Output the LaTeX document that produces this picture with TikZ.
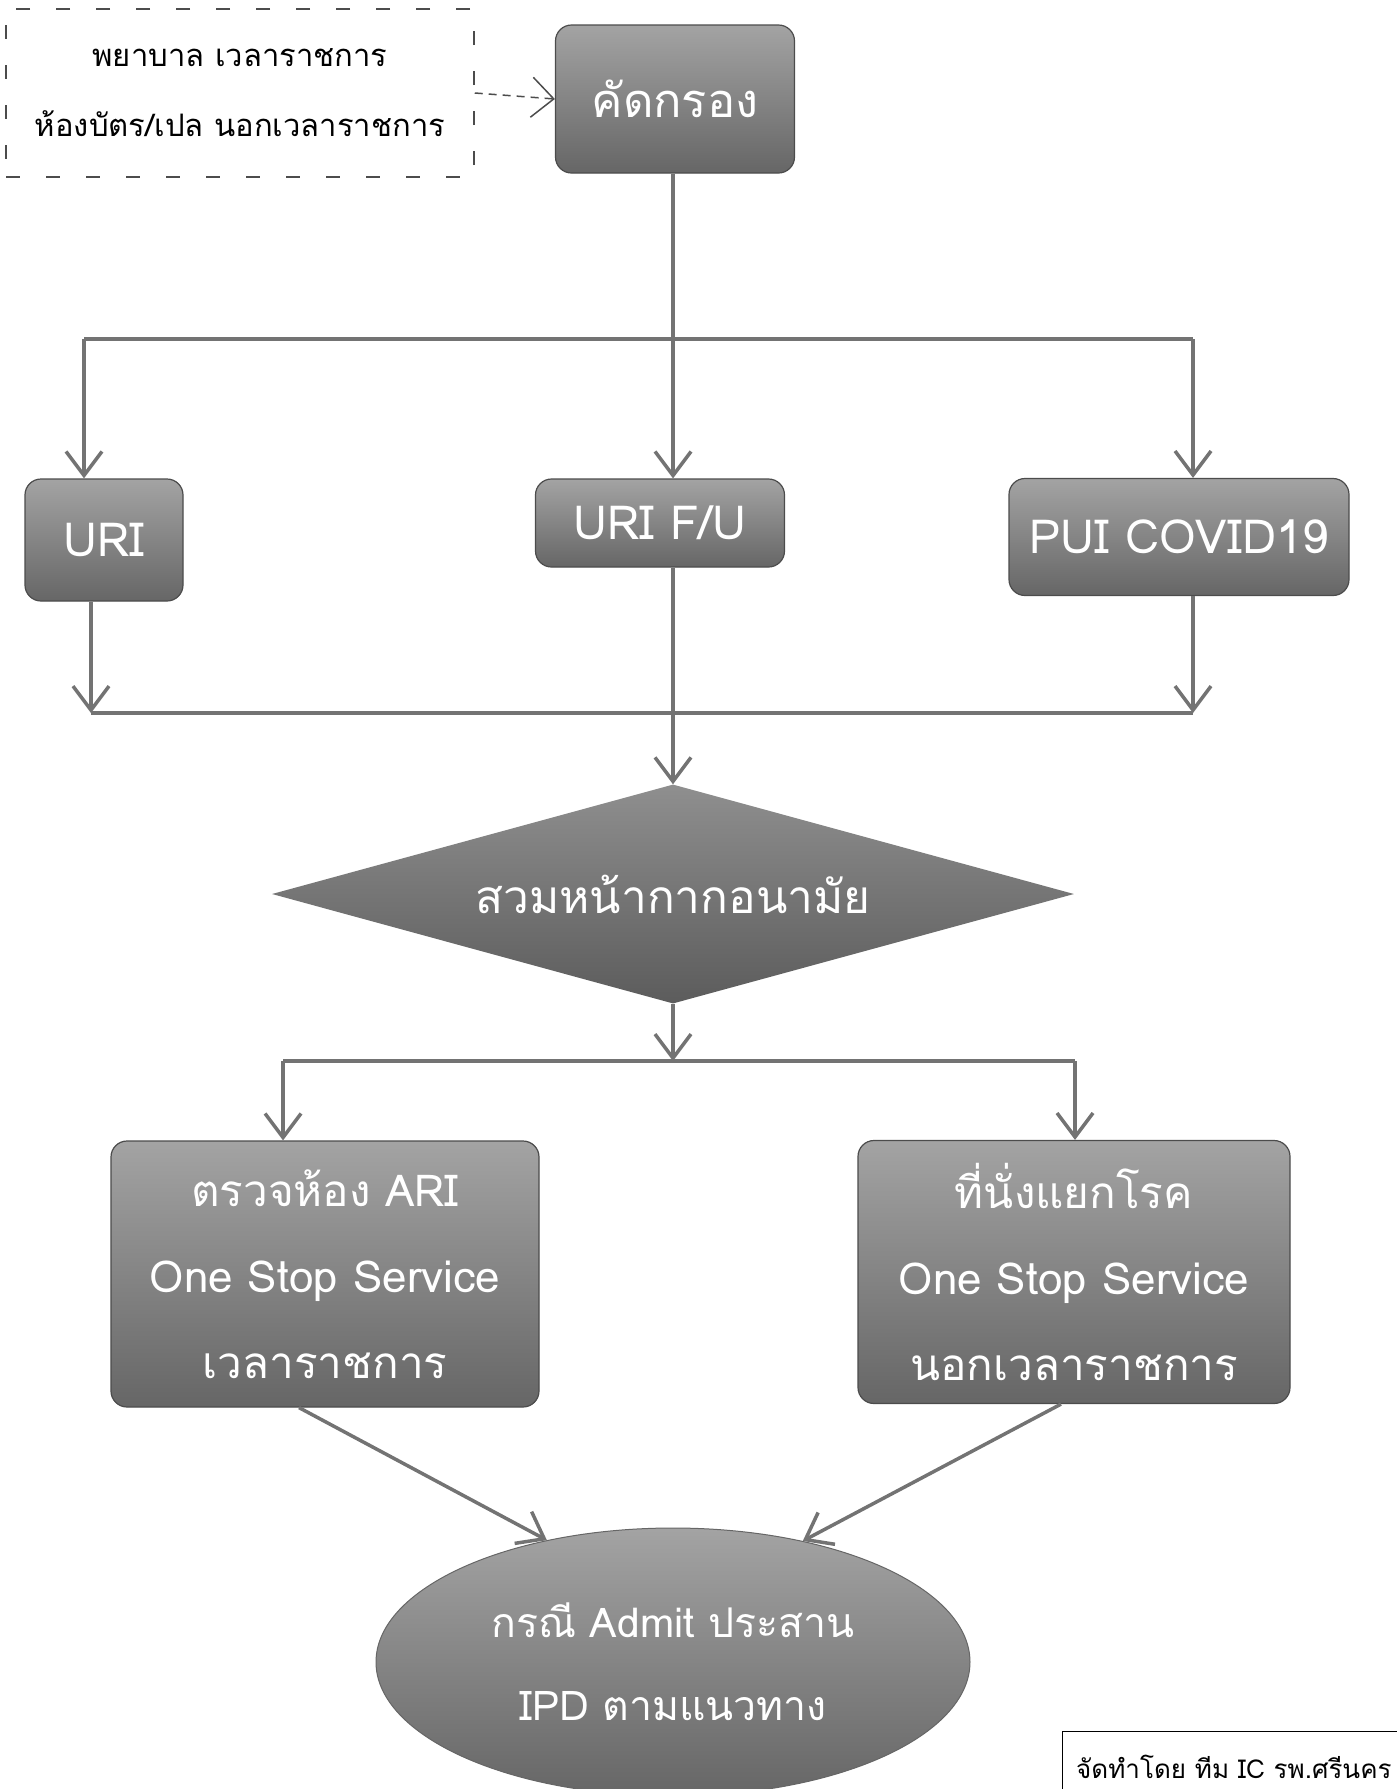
\documentclass[tikz,border=0pt]{standalone}
\usepackage{fontspec}
\usetikzlibrary{shapes.geometric,arrows.meta,calc}
\newfontfamily\thai[Script=Thai]{Loma}
\definecolor{boxtop}{gray}{0.64}
\definecolor{boxbot}{gray}{0.40}
\definecolor{dmtop}{gray}{0.56}
\definecolor{dmbot}{gray}{0.36}
\definecolor{linegray}{gray}{0.45}
\tikzset{
  procbox/.style={draw=black!70, line width=1.2pt, rounded corners=16pt, top color=boxtop, bottom color=boxbot,
    text=white, inner sep=0pt, align=center, font=\thai\fontsize{47}{54}\selectfont},
  decis/.style={diamond, draw=none, top color=dmtop, bottom color=dmbot, inner sep=0pt},
  decistext/.style={text=white, inner sep=0pt, font=\thai\fontsize{46}{52}\selectfont},
  endell/.style={ellipse, draw=black!60, line width=1pt, top color=boxtop, bottom color=boxbot, text=white,
    inner sep=0pt, align=center, font=\thai\fontsize{41}{83}\selectfont},
  flow/.style={draw=linegray, line width=4.5pt},
  flowarr/.style={flow, -{Straight Barb[length=24pt,width=36pt,line width=3.5pt]}},
}
\begin{document}
\begin{tikzpicture}[x=1pt,y=-1pt]
\useasboundingbox (0,0) rectangle (1397,1789);
% top-left dashed note
\node[draw=black!70, dashed, dash pattern=on 14pt off 26pt, line width=1.5pt, minimum width=468pt, minimum height=168pt,
  align=center, inner sep=0pt, font=\thai\fontsize{31}{70}\selectfont] (note) at (240,93)
  {พยาบาล เวลาราชการ\\ห้องบัตร/เปล นอกเวลาราชการ};
% screening
\node[procbox, minimum width=239pt, minimum height=148pt, font=\thai\fontsize{47}{56}\selectfont] (screen) at (675,99) {คัดกรอง};
\draw[black!70, line width=1.5pt, dashed, dash pattern=on 8pt off 6pt, -{Straight Barb[length=22pt,width=40pt,line width=1.5pt]}]
  (note.east) -- (screen.west);
% three categories
\node[procbox, minimum width=158pt, minimum height=122pt] (uri) at (104,540) {URI};
\node[procbox, minimum width=249pt, minimum height=88pt] (urifu) at (660,523) {URI F/U};
\node[procbox, minimum width=340pt, minimum height=117pt] (pui) at (1179,537) {PUI COVID19};
% diamond
\node[decis, minimum width=802pt, minimum height=219pt,
  label={[decistext]center:สวมหน้ากากอนามัย}] (mask) at (673,894) {};
% service boxes
\node[procbox, minimum width=428pt, minimum height=266pt, font=\thai\fontsize{44}{86}\selectfont] (ari) at (325,1274)
  {ตรวจห้อง ARI\\One Stop Service\\เวลาราชการ};
\node[procbox, minimum width=432pt, minimum height=263pt, font=\thai\fontsize{44}{86}\selectfont] (seat) at (1074,1272)
  {ที่นั่งแยกโรค\\One Stop Service\\นอกเวลาราชการ};
% ellipse
\node[endell, minimum width=594pt, minimum height=268pt] (ipd) at (673,1662) {กรณี Admit ประสาน\\IPD ตามแนวทาง};
% credit box
\node[draw=black, line width=1.2pt, anchor=north west, minimum width=345pt, minimum height=70pt, inner sep=0pt] (credit) at (1062,1731) {};
\node[anchor=west, font=\thai\fontsize{26}{30}\selectfont, inner sep=0pt] (credittxt) at (1076,1767) {จัดทำโดย ทีม IC รพ.ศรีนคร};
% coordinates for connectors
\coordinate (j1) at (673,339);
\coordinate (jl) at (84,339);
\coordinate (jr) at (1193,339);
\coordinate (m1) at (91,713);
\coordinate (m2) at (1193,713);
\coordinate (m3) at (673,713);
\coordinate (b1) at (673,1061);
\coordinate (bl) at (283,1061);
\coordinate (br) at (1075,1061);
% connectors top
\draw[flow] (j1 |- screen.south) -- (j1);
\draw[flow] (jl) -- (jr);
\draw[flowarr] (jl) -- (jl |- uri.north);
\draw[flowarr] (j1) -- (j1 |- urifu.north);
\draw[flowarr] (jr) -- (jr |- pui.north);
% merge
\draw[flowarr] (m1 |- uri.south) -- (m1);
\draw[flowarr] (m2 |- pui.south) -- (m2);
\draw[flow] (m1) -- (m2);
\draw[flowarr] (m3 |- urifu.south) -- (mask.north);
% split
\draw[flowarr] (mask.south) -- (b1);
\draw[flow] (bl) -- (br);
\draw[flowarr] (bl) -- (bl |- ari.north);
\draw[flowarr] (br) -- (br |- seat.north);
% to ellipse
\draw[flowarr, line width=3.5pt] ($(ari.south)+(-26,0)$) -- (ipd.136);
\draw[flowarr, line width=3.5pt] ($(seat.south)+(-13,0)$) -- (ipd.43);
\end{tikzpicture}
\end{document}
